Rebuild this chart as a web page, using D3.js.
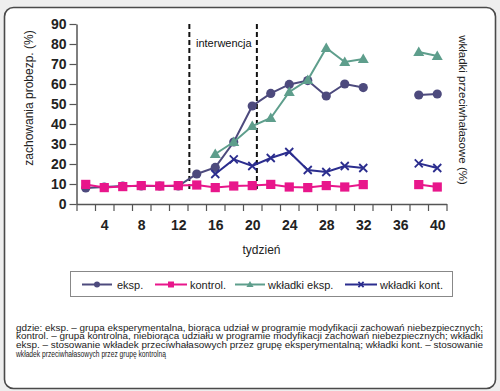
<!DOCTYPE html>
<html>
<head>
<meta charset="utf-8">
<script src="https://cdn.jsdelivr.net/npm/d3@7"></script>
<style>
  html, body { margin: 0; padding: 0; background: #eeeeee; }
  svg { display: block; }
  text { font-family: "Liberation Sans", Arial, sans-serif; }
</style>
</head>
<body>
<svg id="chart" width="500" height="391"></svg>
<script>
// ---- data ----
const weeks = [2,4,6,8,10,12,14,16,18,20,22,24,26,28,30,32,34,36,38,40];
const eksp =        [8, 8.5, 9, 9, 9, 9, 15, 18.3, 31, 49, 55.3, 59.8, 61.7, 54, 60, 58.2, null, null, 54.5, 55];
const kontrol =     [9.8, 8.2, 8.7, 9.2, 9, 9.2, 9.5, 8.2, 9, 9.2, 9.8, 8.5, 8.2, 9.2, 8.5, 9.7, null, null, 9.7, 8.5];
const wkladkiEksp = [null, null, null, null, null, null, null, 25, 31, 39, 43, 56, 62, 78, 71, 72.5, null, null, 76, 74];
const wkladkiKont = [null, null, null, null, null, null, null, 15, 22.3, 19, 23, 26, 17, 16, 19, 18, null, null, 20.3, 18];
const xTickLabels = [4,8,12,16,20,24,28,32,36,40];
const yTickLabels = [0,10,20,30,40,50,60,70,80,90];
const interventionStart = 13.2, interventionEnd = 20.5;
const seriesNames = ["eksp.", "kontrol.", "wkładki eksp.", "wkładki kont."];
const footnote = [
  "gdzie: eksp. – grupa eksperymentalna, biorąca udział w programie modyfikacji zachowań niebezpiecznych;",
  "kontrol. – grupa kontrolna, niebiorąca udziału w programie modyfikacji zachowań niebezpiecznych; wkładki",
  "eksp. – stosowanie wkładek przeciwhałasowych przez grupę eksperymentalną; wkładki kont. – stosowanie",
  "wkładek przeciwhałasowych przez grupę kontrolną"
];

const series = [
  {name: seriesNames[0], values: eksp, color: "#4d4a7d", marker: "circle"},
  {name: seriesNames[1], values: kontrol, color: "#e8168b", marker: "square"},
  {name: seriesNames[2], values: wkladkiEksp, color: "#5e9e8c", marker: "triangle"},
  {name: seriesNames[3], values: wkladkiKont, color: "#2b2d8e", marker: "x"}
];

const svg = d3.select("#chart");

// panel
svg.append("rect").attr("x", 4.5).attr("y", 7.5).attr("width", 491).attr("height", 381)
  .attr("rx", 9).attr("fill", "#ffffff").attr("stroke", "#4a4a4a").attr("stroke-width", 1.6);

// scales
const x = d3.scaleLinear().domain([1, 41]).range([76.5, 446.5]);
const y = d3.scaleLinear().domain([0, 90]).range([204, 24]);

// intervention lines
[interventionStart, interventionEnd].forEach(w => {
  svg.append("line").attr("x1", x(w)).attr("x2", x(w)).attr("y1", y(90)).attr("y2", y(7))
    .attr("stroke", "#111").attr("stroke-width", 2).attr("stroke-dasharray", "5,3");
});
svg.append("text").attr("x", 196).attr("y", 47).attr("font-size", 11).attr("fill", "#111").text("interwencja");

// axes
const axisColor = "#555";
const xAxis = svg.append("g").attr("transform", "translate(0,204)")
  .call(d3.axisBottom(x).tickValues(d3.range(1, 42, 2)).tickFormat("").tickSize(7).tickSizeOuter(0));
const xLabels = svg.append("g").attr("transform", "translate(0,204)")
  .call(d3.axisBottom(x).tickValues(xTickLabels).tickFormat(d3.format("d")).tickSize(0).tickPadding(16));
xLabels.select(".domain").remove();
xLabels.selectAll("text").attr("font-size", 14).attr("font-weight", "bold").attr("fill", "#222")
  .attr("font-family", "'Liberation Sans', Arial, sans-serif");

const yAxis = svg.append("g").attr("transform", "translate(76.5,0)")
  .call(d3.axisLeft(y).tickValues(yTickLabels).tickSize(7).tickSizeOuter(0).tickPadding(3));
yAxis.selectAll("text").attr("font-size", 14).attr("font-weight", "bold").attr("fill", "#222")
  .attr("font-family", "'Liberation Sans', Arial, sans-serif");
[xAxis, yAxis].forEach(g => {
  g.select(".domain").attr("stroke", axisColor).attr("stroke-width", 1.5);
  g.selectAll(".tick line").attr("stroke", axisColor).attr("stroke-width", 1.2);
});

// axis titles
svg.append("text").attr("transform", "translate(33,98) rotate(-90)").attr("text-anchor", "middle")
  .attr("font-size", 12).attr("fill", "#222").text("zachowania probezp. (%)");
svg.append("text").attr("transform", "translate(459,110) rotate(90)").attr("text-anchor", "middle")
  .attr("font-size", 11.5).attr("fill", "#222").text("wkładki przeciwhałasowe (%)");
svg.append("text").attr("x", 261.5).attr("y", 254).attr("text-anchor", "middle")
  .attr("font-size", 12).attr("fill", "#222").text("tydzień");

// markers
function drawMarker(g, type, color, s) {
  if (type === "circle") {
    g.append("circle").attr("r", 4.6 * s).attr("fill", color);
  } else if (type === "square") {
    g.append("rect").attr("x", -4.6 * s).attr("y", -4.6 * s).attr("width", 9.2 * s).attr("height", 9.2 * s).attr("fill", color);
  } else if (type === "triangle") {
    g.append("path").attr("d", `M0,${-5.5*s}L${5.5*s},${4*s}L${-5.5*s},${4*s}Z`).attr("fill", color);
  } else {
    g.append("path").attr("d", `M${-4*s},${-4*s}L${4*s},${4*s}M${-4*s},${4*s}L${4*s},${-4*s}`)
      .attr("stroke", color).attr("stroke-width", 1.8).attr("fill", "none");
  }
}

const line = d3.line().defined(d => d.v != null).x(d => x(d.w)).y(d => y(d.v));
series.forEach(s => {
  const pts = weeks.map((w, i) => ({w, v: s.values[i]}));
  svg.append("path").datum(pts).attr("d", line).attr("fill", "none")
    .attr("stroke", s.color).attr("stroke-width", 2);
  pts.filter(d => d.v != null).forEach(d => {
    const g = svg.append("g").attr("transform", `translate(${x(d.w)},${y(d.v)})`);
    drawMarker(g, s.marker, s.color, 1);
  });
});

// legend
svg.append("rect").attr("x", 70.5).attr("y", 271.5).attr("width", 382).attr("height", 25)
  .attr("fill", "none").attr("stroke", "#888").attr("stroke-width", 1);
const legendPos = [
  {x1: 82, x2: 112, tx: 117},
  {x1: 155, x2: 187, tx: 190},
  {x1: 235, x2: 265, tx: 268},
  {x1: 345, x2: 377, tx: 380}
];
series.forEach((s, i) => {
  const p = legendPos[i];
  svg.append("line").attr("x1", p.x1).attr("x2", p.x2).attr("y1", 284.5).attr("y2", 284.5)
    .attr("stroke", s.color).attr("stroke-width", 2);
  const g = svg.append("g").attr("transform", `translate(${(p.x1 + p.x2) / 2},284.5)`);
  drawMarker(g, s.marker, s.color, 0.65);
  svg.append("text").attr("x", p.tx).attr("y", 288.5).attr("font-size", 11).attr("fill", "#222").text(s.name);
});

// footnote
const fnY = [330.5, 339.3, 348.1, 356.9];
const fnLen = [467, 467, 467, 150];
footnote.forEach((t, i) => {
  svg.append("text").attr("x", 16).attr("y", fnY[i]).attr("font-size", 9)
    .attr("font-family", "Lato, 'Open Sans', sans-serif").attr("fill", "#222")
    .attr("textLength", fnLen[i]).attr("lengthAdjust", "spacingAndGlyphs").text(t);
});
</script>
</body>
</html>
